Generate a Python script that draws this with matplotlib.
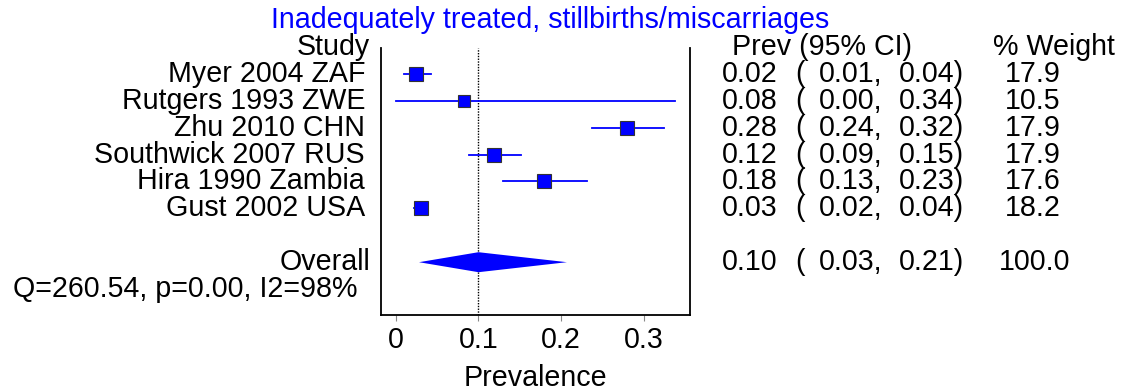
import matplotlib
matplotlib.use("Agg")
import matplotlib.pyplot as plt
import numpy as np
from matplotlib.transforms import blended_transform_factory

plt.rcParams["font.family"] = ["Liberation Sans", "DejaVu Sans"]

# ── data ────────────────────────────────────
studies = ["Myer 2004 ZAF", "Rutgers 1993 ZWE", "Zhu 2010 CHN",
           "Southwick 2007 RUS", "Hira 1990 Zambia", "Gust 2002 USA"]
prev = [0.024, 0.083, 0.280, 0.119, 0.179, 0.031]
ci_lo = [0.010, 0.000, 0.237, 0.089, 0.130, 0.022]
ci_hi = [0.042, 0.338, 0.324, 0.152, 0.231, 0.039]
weights = [17.9, 10.5, 17.9, 17.9, 17.6, 18.2]

overall = 0.100
overall_lo = 0.028
overall_hi = 0.207
overall_weight = 100.0
het_text = "Q=260.54, p=0.00, I2=98%"

xticks = [0, 0.1, 0.2, 0.3]
title = "Inadequately treated, stillbirths/miscarriages"
BLUE = "#0000ff"
FS = 20.6

# ── layout (pixels) ─────────────────────────
W, H = 1122, 392
fig = plt.figure(figsize=(W / 100, H / 100), dpi=100)
ax_l, ax_r, ax_t, ax_b = 381, 690, 48, 315
ax = fig.add_axes([ax_l / W, (H - ax_b) / H, (ax_r - ax_l) / W, (ax_b - ax_t) / H])

row0_px, step_px = 47, 26.9
ax.set_ylim((ax_b - row0_px) / step_px, (ax_t - row0_px) / step_px)
ax.set_xlim(-0.018, 0.356)

rows = np.arange(1, len(studies) + 1)
overall_row = len(studies) + 2

# dotted line at the pooled estimate
ax.axvline(overall, color="black", ls=(0, (1, 1)), lw=1.0, zorder=1)

# CIs and weighted squares
for y, m, lo, hi, w in zip(rows, prev, ci_lo, ci_hi, weights):
    ax.plot([lo, hi], [y, y], color=BLUE, lw=1.3, zorder=2)
    ax.plot(m, y, marker="s", ms=4.57 * w ** 0.25, mfc=BLUE, mec="#333333",
            mew=0.8, zorder=3)

# pooled diamond
h = 10 / step_px
ax.fill([overall_lo, overall, overall_hi, overall],
        [overall_row, overall_row - h, overall_row, overall_row + h],
        color=BLUE, lw=0, zorder=3)

ax.spines["top"].set_visible(False)
for s in ["left", "right", "bottom"]:
    ax.spines[s].set_linewidth(1.3)
ax.set_yticks([])
ax.set_xticks(xticks)
ax.set_xticklabels(["0", "0.1", "0.2", "0.3"])
ax.tick_params(axis="x", direction="out", length=4, width=0.8,
               labelsize=FS, pad=4, color="#888888")
ax.set_xlabel("Prevalence", fontsize=FS, labelpad=7)

# ── text columns ────────────────────────────
tr = blended_transform_factory(fig.transFigure, ax.transData)


def put(xpx, y, s, ha="left", **kw):
    ax.text(xpx / W, y, s, transform=tr, ha=ha, va="center",
            fontsize=FS, clip_on=False, **kw)


put(370, 0, "Study", ha="right")
put(732, 0, "Prev (95% CI)")
put(993, 0, "% Weight")

for y, name, m, lo, hi, w in zip(rows, studies, prev, ci_lo, ci_hi, weights):
    put(365, y, name, ha="right")
    put(722, y, f"{m:.2f}")
    put(795, y, "(")
    put(819, y, f"{lo:.2f},")
    put(899, y, f"{hi:.2f})")
    put(1033, y, f"{w:.1f}", ha="center")

put(370, overall_row, "Overall", ha="right")
put(722, overall_row, f"{overall:.2f}")
put(795, overall_row, "(")
put(819, overall_row, f"{overall_lo:.2f},")
put(899, overall_row, f"{overall_hi:.2f})")
put(1035, overall_row, f"{overall_weight:.1f}", ha="center")

put(13, overall_row + 1, het_text)

fig.text(550 / W, (H - 20) / H, title, color=BLUE, fontsize=FS,
         ha="center", va="center")

fig.savefig("out.png", dpi=100)
